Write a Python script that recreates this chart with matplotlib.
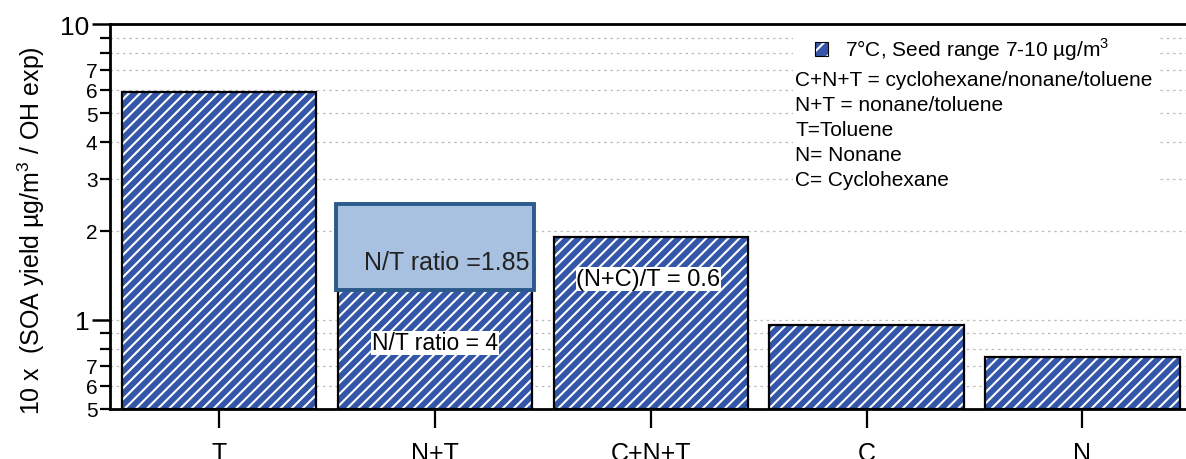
import matplotlib
matplotlib.use("Agg")
import matplotlib.pyplot as plt
from matplotlib.patches import Rectangle
from matplotlib.ticker import FixedLocator, FixedFormatter

plt.rcParams['font.family'] = ['Liberation Sans', 'DejaVu Sans']
plt.rcParams['mathtext.fontset'] = 'custom'
plt.rcParams['mathtext.rm'] = 'Liberation Sans'
plt.rcParams['hatch.linewidth'] = 1.5

# Data
categories = ['T', 'N+T', 'C+N+T', 'C', 'N']
yields = [5.9, 1.26, 1.90, 0.96, 0.75]
# alternative N+T value shown as an overlay box
nt_alt_value = 2.47
major_ticks = [1, 10]
major_labels = ['1', '10']
minor_ticks = [0.5, 0.6, 0.7, 0.8, 0.9, 2, 3, 4, 5, 6, 7, 8, 9]
minor_labels = ['5', '6', '7', '', '', '2', '3', '4', '5', '6', '7', '', '']
legend_label = r'7°C, Seed range 7-10 µg/m$^3$'
legend_lines = ['C+N+T = cyclohexane/nonane/toluene',
                'N+T = nonane/toluene',
                'T=Toluene',
                'N= Nonane',
                'C= Cyclohexane']

bar_blue = '#3456A8'
ymin = 0.5

fig = plt.figure(figsize=(11.86, 4.6), dpi=100)
ax = fig.add_axes([110 / 1186, 50 / 460, 1 - 110 / 1186, (410 - 25) / 460])
ax.set_yscale('log')
ax.set_ylim(ymin, 10)
ax.set_xlim(-0.505, 4.48)

x = list(range(len(categories)))
heights = [v - ymin for v in yields]
# hatched fill (white stripes on blue), then black outline
ax.bar(x, heights, bottom=ymin, width=0.9, color=bar_blue, edgecolor='white',
       hatch='///', linewidth=0, zorder=2)
ax.bar(x, heights, bottom=ymin, width=0.9, fill=False, edgecolor='black',
       linewidth=1.6, zorder=3)

# overlay box for the N+T alternative ratio
ax.bar([1], [nt_alt_value - yields[1]], bottom=yields[1], width=0.92,
       color='#A9C1E0', edgecolor='#2B5A8C', linewidth=2.8, zorder=4)

ax.text(1.055, 1.57, 'N/T ratio =1.85', fontsize=18, ha='center', va='center',
        color='#222222', zorder=5)
ax.text(1.0, 0.837, 'N/T ratio = 4', fontsize=16.5, ha='center', va='center', zorder=5,
        bbox=dict(facecolor='white', edgecolor='none', pad=0.5))
ax.text(1.99, 1.374, '(N+C)/T = 0.6', fontsize=17, ha='center', va='center', zorder=5,
        bbox=dict(facecolor='white', edgecolor='none', pad=0.5))

# y axis: long ticks at decades, short ticks in between, dotted grid at all
ax.yaxis.set_major_locator(FixedLocator(major_ticks))
ax.yaxis.set_major_formatter(FixedFormatter(major_labels))
ax.yaxis.set_minor_locator(FixedLocator(minor_ticks))
ax.yaxis.set_minor_formatter(FixedFormatter(minor_labels))
ax.tick_params(axis='y', which='major', length=13, width=1.8, pad=2, labelsize=19)
ax.tick_params(axis='y', which='minor', length=7, width=1.6, pad=2, labelsize=15)
ax.grid(axis='y', which='both', linestyle=(0, (2, 3)), color='#BBBBBB', linewidth=0.9, zorder=0)
ax.set_axisbelow(True)

ax.set_xticks(x)
ax.set_xticklabels(categories, fontsize=18)
ax.tick_params(axis='x', length=14, width=1.6, pad=9)

for side in ('left', 'bottom', 'top'):
    ax.spines[side].set_linewidth(2.0)
ax.spines['right'].set_visible(False)

ax.set_ylabel(r'10 x  (SOA yield µg/m$^3$ / OH exp)', fontsize=18)
ax.yaxis.set_label_coords(-0.059, 0.465)

# legend block
ax.add_patch(Rectangle((0.635, 0.57), 0.34, 0.41, transform=ax.transAxes,
                       facecolor='white', edgecolor='none', zorder=1))
ax.add_patch(Rectangle((0.655, 0.917), 0.012, 0.036, transform=ax.transAxes,
                       facecolor=bar_blue, edgecolor='white', hatch='//', linewidth=0, zorder=5))
ax.add_patch(Rectangle((0.655, 0.917), 0.012, 0.036, transform=ax.transAxes,
                       fill=False, edgecolor='black', linewidth=0.8, zorder=6))
ax.text(0.683, 0.935, legend_label, transform=ax.transAxes, fontsize=15,
        va='center', ha='left', zorder=6)
for i, line in enumerate(legend_lines):
    ax.text(0.637, 0.857 - i * 0.065, line, transform=ax.transAxes, fontsize=15,
            va='center', ha='left', zorder=6)

fig.savefig('out.png', dpi=100)
